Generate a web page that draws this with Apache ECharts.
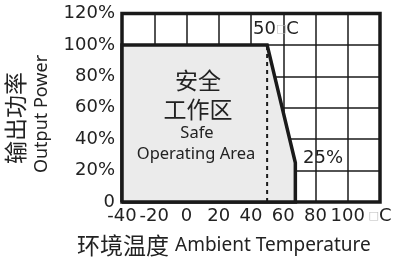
<!DOCTYPE html>
<html><head><meta charset="utf-8">
<script src="https://cdn.jsdelivr.net/npm/echarts@6/dist/echarts.min.js"></script>
<style>html,body{margin:0;padding:0;background:#fff}#c{width:397px;height:262px}</style>
</head><body><div id="c"></div>
<script>
// data
const xTicks = [-40, -20, 0, 20, 40, 60, 80, 100, 120];
const yTicks = [0, 20, 40, 60, 80, 100, 120];
const safeX = [-40, -40, 50, 67.5, 67.5];
const safeY = [0, 100, 100, 25, 0];
const ratedX = [50, 50];
const ratedY = [0, 100];

const area = safeX.map((x, i) => [x, safeY[i]]);
const outline = area.concat([[safeX[0], safeY[0]]]);
const dashed = ratedX.map((x, i) => [x, ratedY[i]]);

const chart = echarts.init(document.getElementById('c'), null, {renderer: 'canvas'});
const numFont = 'DejaVu Sans';
chart.setOption({
  animation: false,
  grid: {left: 122, right: 17, top: 13.5, bottom: 60, show: true, borderColor: '#1a1a1a', borderWidth: 3.5, backgroundColor: 'transparent'},
  xAxis: {
    type: 'value', min: xTicks[0], max: xTicks[xTicks.length - 1], interval: 20,
    axisLine: {show: false}, axisTick: {show: false},
    splitLine: {show: true, lineStyle: {color: '#1a1a1a', width: 1.5}},
    axisLabel: {
      margin: 5, color: '#222', fontFamily: numFont, fontSize: 18,
      formatter: v => v === 120 ? '{b|□}C' : String(v),
      rich: {b: {color: '#bbb', fontSize: 11, fontFamily: numFont}}
    }
  },
  yAxis: {
    type: 'value', min: yTicks[0], max: yTicks[yTicks.length - 1], interval: 20,
    axisLine: {show: false}, axisTick: {show: false},
    splitLine: {show: true, lineStyle: {color: '#1a1a1a', width: 1.5}},
    axisLabel: {
      margin: 7, color: '#222', fontFamily: numFont, fontSize: 18,
      formatter: v => v === 0 ? '0' : v + '%'
    }
  },
  series: [
    {type: 'line', data: area, symbol: 'none', clip: false, lineStyle: {width: 0},
     areaStyle: {color: '#ebebeb', opacity: 1}, z: 2},
    {type: 'line', data: dashed, symbol: 'none', clip: false,
     lineStyle: {color: '#1a1a1a', width: 2, type: [4, 4]}, z: 3},
    {type: 'line', data: outline, symbol: 'none', clip: false,
     lineStyle: {color: '#1a1a1a', width: 3.5, join: 'miter'}, z: 4}
  ],
  graphic: [
    {type: 'text', x: 15, y: 118, rotation: Math.PI / 2,
     style: {text: '输出功率', font: '23px "Noto Sans CJK SC"', fill: '#222', align: 'center', verticalAlign: 'middle'}},
    {type: 'text', x: 42, y: 114, rotation: Math.PI / 2,
     style: {text: 'Output Power', font: '18px "Noto Sans"', fill: '#222', align: 'center', verticalAlign: 'middle'}},
    {type: 'text', x: 77, y: 245,
     style: {text: '环境温度', font: '23px "Noto Sans CJK SC"', fill: '#222', align: 'left', verticalAlign: 'middle'}},
    {type: 'text', x: 175, y: 246,
     style: {text: 'Ambient Temperature', font: '19px "Noto Sans"', fill: '#222', align: 'left', verticalAlign: 'middle'}},
    {type: 'text', x: 198, y: 80, z: 10,
     style: {text: '安全', font: '23px "Noto Sans CJK SC"', fill: '#222', align: 'center', verticalAlign: 'middle'}},
    {type: 'text', x: 198, y: 109, z: 10,
     style: {text: '工作区', font: '23px "Noto Sans CJK SC"', fill: '#222', align: 'center', verticalAlign: 'middle'}},
    {type: 'text', x: 197, y: 133, z: 10,
     style: {text: 'Safe', font: '16.5px "Noto Sans"', fill: '#222', align: 'center', verticalAlign: 'middle'}},
    {type: 'text', x: 196, y: 154, z: 10,
     style: {text: 'Operating Area', font: '16.5px "Noto Sans"', fill: '#222', align: 'center', verticalAlign: 'middle'}},
    {type: 'text', x: 253, y: 29, z: 10,
     style: {text: '50{b|□}C', font: '18px "DejaVu Sans"', fill: '#222', align: 'left', verticalAlign: 'middle',
       rich: {b: {fill: '#bbb', font: '11px "DejaVu Sans"'}}}},
    {type: 'text', x: 303, y: 158, z: 10,
     style: {text: '25%', font: '18px "DejaVu Sans"', fill: '#222', align: 'left', verticalAlign: 'middle'}}
  ]
});
</script></body></html>
